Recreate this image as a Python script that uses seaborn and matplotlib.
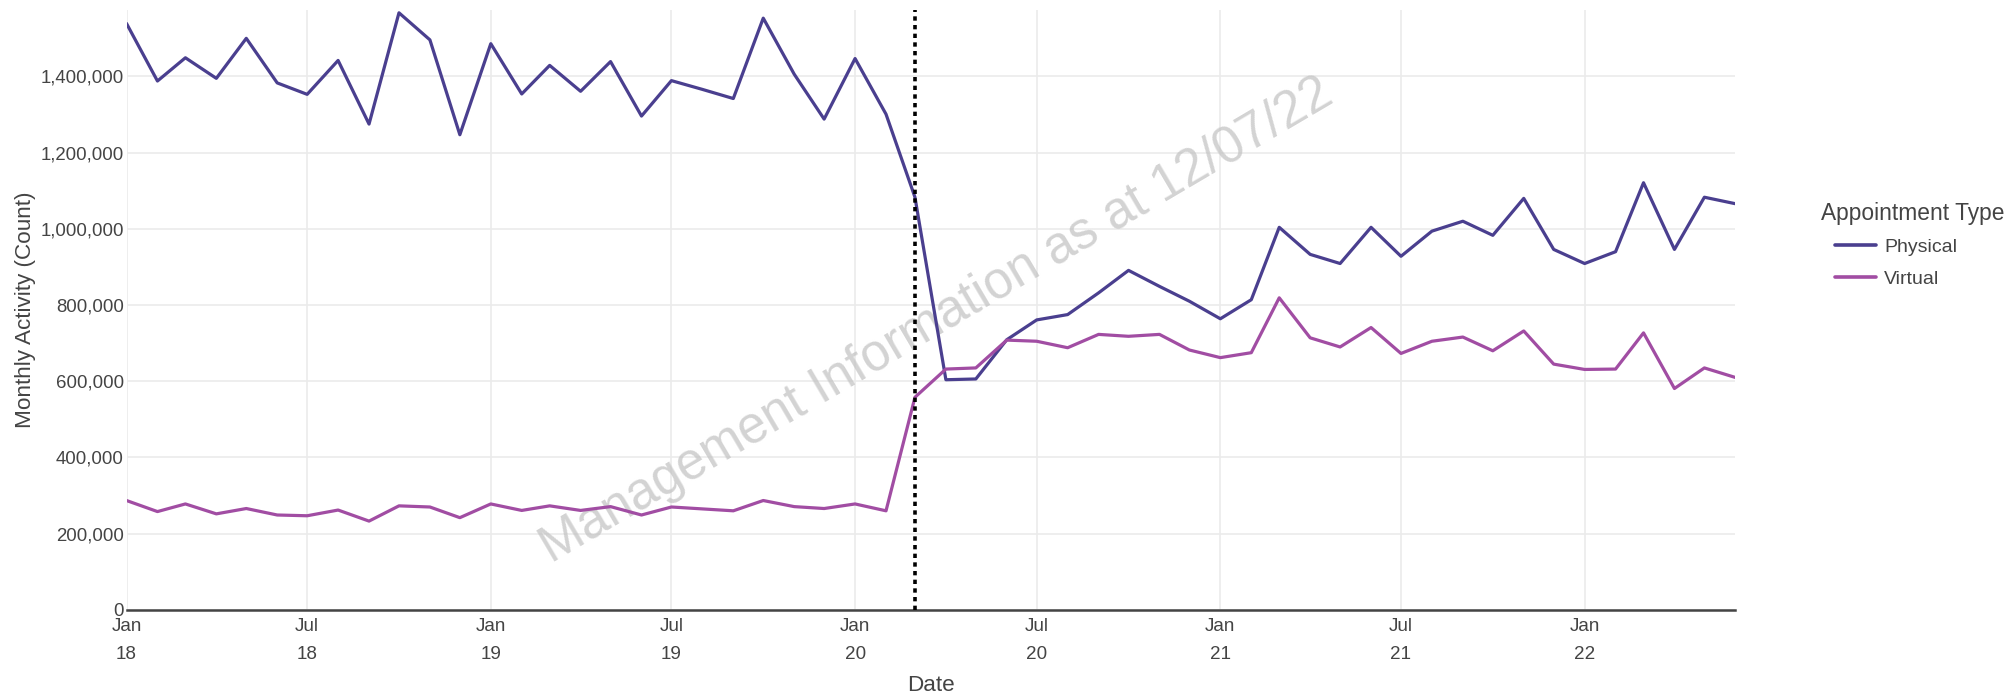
import pandas as pd
import matplotlib.pyplot as plt
import matplotlib.ticker as mticker
import seaborn as sns

# monthly counts, Jan 2018 - Jun 2022
months = pd.date_range('2018-01-01', '2022-06-01', freq='MS')

physical = [
    1539000, 1388000, 1449000, 1395000, 1500000, 1383000,
    1353000, 1442000, 1275000, 1567000, 1496000, 1247000,
    1486000, 1354000, 1429000, 1361000, 1439000, 1296000,
    1389000, 1366000, 1342000, 1553000, 1406000, 1288000,
    1447000, 1301000, 1083000, 604000, 606000, 709000,
    761000, 775000, 832000, 891000, 849000, 810000,
    764000, 814000, 1004000, 933000, 909000, 1004000,
    928000, 994000, 1020000, 983000, 1080000, 946000,
    909000, 940000, 1121000, 946000, 1083000, 1066000,
]
virtual = [
    287000, 258000, 278000, 252000, 266000, 249000,
    247000, 262000, 233000, 273000, 270000, 242000,
    278000, 261000, 273000, 261000, 271000, 249000,
    270000, 265000, 260000, 287000, 271000, 266000,
    278000, 260000, 558000, 632000, 635000, 708000,
    705000, 688000, 723000, 718000, 723000, 682000,
    662000, 675000, 819000, 714000, 690000, 741000,
    673000, 705000, 716000, 680000, 732000, 645000,
    631000, 632000, 727000, 581000, 635000, 610000,
]

appt_types = ['Physical', 'Virtual']
colours = ['#4a3f8f', '#a14da3']
marker_date = pd.Timestamp('2020-03-01')
watermark = 'Management Information as at 12/07/22'

df = pd.DataFrame({
    'Date': list(months) * 2,
    'Count': physical + virtual,
    'Appointment Type': ['Physical'] * len(months) + ['Virtual'] * len(months),
})

sns.set_style('white')
plt.rcParams['font.family'] = ['Liberation Sans', 'DejaVu Sans']

fig, ax = plt.subplots(figsize=(20.05, 6.97), dpi=100)
fig.subplots_adjust(left=0.0631, right=0.8655, bottom=0.125, top=0.986)

sns.lineplot(data=df, x='Date', y='Count', hue='Appointment Type',
             hue_order=appt_types, palette=colours, linewidth=2.3, ax=ax)

ax.axvline(marker_date, color='black', linestyle=(0, (1.2, 1.2)), linewidth=2.6, zorder=5)

ax.set_xlim(months[0], months[-1])
ax.set_ylim(0, 1575000)

# ticks every 6 months, two line labels
xticks = pd.date_range('2018-01-01', '2022-01-01', freq='6MS')
ax.set_xticks(xticks)
ax.set_xticklabels([d.strftime('%b\n%y') for d in xticks], linespacing=1.8)
ax.set_yticks(range(0, 1400001, 200000))
ax.yaxis.set_major_formatter(mticker.FuncFormatter(lambda v, p: f'{int(v):,}'))
ax.tick_params(axis='both', colors='#444444', length=0)
ax.tick_params(axis='y', labelsize=13.4, pad=2)
ax.tick_params(axis='x', labelsize=13.6, pad=6)

ax.grid(True, color='#ebebeb', linewidth=1.2)
ax.set_axisbelow(True)
for side in ['top', 'right', 'left']:
    ax.spines[side].set_visible(False)
ax.spines['bottom'].set_color('#444444')
ax.spines['bottom'].set_linewidth(1.8)

ax.set_xlabel('Date', fontsize=16.2, color='#444444', labelpad=9)
ax.set_ylabel('Monthly Activity (Count)', fontsize=16.2, color='#444444', labelpad=3)

ax.text(0.5035, 0.482, watermark, transform=ax.transAxes, rotation=30.5,
        fontsize=37, color='#c4c4c4', alpha=0.75, ha='center', va='center', zorder=1)

# legend: title drawn separately so the entries sit indented like the original
ax.text(1.0535, 0.661, 'Appointment Type', transform=ax.transAxes, fontsize=16.4,
        color='#444444', ha='left', va='center')
leg = ax.legend(loc='center left', bbox_to_anchor=(1.0622, 0.578),
                frameon=False, fontsize=14, handlelength=2.1,
                handletextpad=0.4, labelspacing=0.76, borderpad=0, borderaxespad=0)
for t in leg.get_texts():
    t.set_color('#444444')
for h in leg.get_lines():
    h.set_linewidth(2.6)

plt.savefig('out.png', dpi=100)
plt.close()
